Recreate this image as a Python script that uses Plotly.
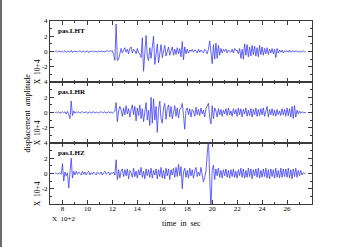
import numpy as np
import plotly.graph_objects as go
from plotly.subplots import make_subplots

# ---- data (amplitudes in units of 10^4, time in units of 10^2 s) ----
t_start = 7.4
dt = 0.1

lht = [
    0.0, 0.05, -0.05, 0.05, 0.0, -0.05,
    0.05, -0.05, 0.1, -0.1, 0.05, 0.0, -0.05, 0.15, -0.15, 0.05,
    0.0, 0.05, -0.05, 0.0, 0.1, -0.05, 0.0, 0.05, -0.1, 0.05,
    0.1, -0.15, 0.05, 0.0, 0.05, -0.05, 0.05, 0.0, -0.1, 0.1,
    -0.05, 0.05, 0.0, 0.05, -0.05, 0.05, 0.1, 0.0, 0.1, 0.05,
    0.1, -0.4, -1.15, 3.6, -1.2, -1.0, -0.3, 0.4, -0.2, 0.3,
    0.5, -0.1, 0.3, -0.3, 0.4, 0.6, -0.2, 0.3, 0.1, -0.3,
    0.4, -0.2, -0.3, -0.8, 1.8, -2.6, 0.2, 2.1, -0.6, -1.2,
    0.5, -0.9, 0.6, 2.0, -1.7, -0.2, 1.0, -1.5, -0.3, 0.9,
    -0.8, 0.1, 0.8, -0.6, 0.2, 0.6, -0.5, 0.1, 0.6, -0.5,
    0.3, -0.4, 0.5, -0.3, 0.4, -0.7, 1.3, -1.1, 0.6, -0.3,
    0.3, -0.2, 0.2, 0.0, 0.3, -0.1, 0.2, 0.1, -0.2, 0.3,
    -0.1, 0.2, 0.0, -0.2, 0.3, 0.1, -0.3, 0.3, 1.4, 0.2,
    -1.6, 0.9, -1.0, 1.1, -0.9, 0.8, -0.5, 0.4, -0.2, 0.3,
    0.0, 0.3, -0.2, 0.2, 0.1, -0.1, 0.3, -0.2, 0.4, 0.1,
    0.2, -0.3, 0.4, -0.9, 0.3, -1.0, 1.0, -0.5, 0.9, -0.7,
    0.6, -0.6, 0.8, -0.4, 0.7, -0.6, 0.5, -0.7, 0.8, -0.4,
    0.6, -0.5, 0.4, -0.3, 0.5, -0.4, 0.3, -0.2, 0.4, -0.3,
    0.3, -0.8, 0.4, -0.2, 0.2, -0.1, 0.2, -0.2, 0.1, 0.0,
    0.1, -0.1, 0.2, -0.1, 0.0, 0.1, -0.1, 0.1, 0.0, -0.1,
    0.1, -0.1, 0.0, 0.1, -0.05, 0.0,
]

lhr = [
    0.0, 0.05, -0.05, 0.1, -0.1, 0.05,
    0.1, -0.05, 0.1, -0.2, 0.15, -0.3, -0.8, 1.5, -0.4, 0.2,
    -0.1, 0.1, -0.05, 0.1, -0.1, 0.05, 0.1, -0.05, 0.0, 0.1,
    -0.1, 0.05, 0.1, -0.05, 0.0, 0.1, -0.1, 0.05, 0.0, -0.05,
    0.05, 0.1, -0.05, 0.0, 0.1, -0.1, 0.05, 0.1, -0.05, 0.1,
    -0.1, 0.1, 0.2, 1.3, -1.2, 0.2, 0.8, 0.3, -0.5, 0.6,
    -0.3, 0.9, -0.2, 0.5, -0.6, 0.4, 1.0, -0.3, 0.8, -1.1,
    0.6, -0.4, 1.0, -0.8, 0.5, -1.2, 0.4, 1.3, -1.0, 0.3,
    -1.7, 2.0, -1.4, 1.8, -1.0, 0.8, -2.6, 0.4, 1.5, -0.8,
    -1.4, 0.6, 1.2, -0.9, 0.5, 1.0, -0.6, 0.8, -0.8, 0.3,
    0.9, -0.5, 0.6, -0.7, 0.4, 0.6, 1.2, -0.4, -2.2, 0.3,
    0.6, -0.3, 0.5, -0.6, 0.4, 0.2, -0.5, 0.7, -0.3, 0.4,
    -0.4, 0.6, -0.2, 0.3, -0.6, 0.5, 0.8, 1.2, -0.6, -1.5,
    0.9, -0.8, 0.6, 0.2, -0.6, 0.5, -0.3, 0.4, -0.5, 0.3,
    -0.2, 0.5, -0.4, 0.6, -0.3, 0.2, -0.5, 0.5, -0.2, 0.4,
    -0.5, 0.6, -0.3, 0.5, -0.6, 0.4, -0.2, 0.6, -0.5, 0.3,
    -0.4, 0.5, -0.6, 0.4, -0.3, 0.6, -0.5, 0.4, -0.4, 0.5,
    -0.3, 0.6, -0.5, 0.3, 0.8, -0.6, 0.4, -0.3, 0.5, -0.4,
    0.3, -0.5, 0.4, -0.3, 0.2, -0.4, 0.5, -0.3, 0.4, -0.5,
    0.6, -0.4, 0.5, -0.6, 0.8, -0.8, 0.9, -0.6, 0.3, -0.2,
    0.2, -0.1, 0.1, 0.0, 0.05, 0.0,
]

lhz = [
    0.0, 0.1, -0.1, 0.05, 0.1, -0.1,
    1.3, -1.0, 0.2, -0.3, 0.1, -1.9, 0.3, 2.0, -0.6, 0.3,
    -0.2, 0.3, -0.1, 0.2, 0.0, -0.2, 0.3, -0.1, 0.2, -0.2,
    0.1, 0.3, -0.2, 0.1, -0.1, 0.2, 0.0, -0.2, 0.2, 0.1,
    -0.1, 0.2, -0.2, 0.1, 0.3, -0.1, 0.0, 0.2, -0.2, 0.1,
    0.0, 0.2, -0.2, 1.8, -0.8, 0.5, -0.6, 0.3, 0.6, -0.4,
    0.5, -0.3, 0.6, -0.7, 0.4, 0.1, -0.5, 0.7, -0.4, 0.3,
    -0.6, 0.5, -0.2, 0.8, -0.5, 0.3, -0.7, 0.6, -0.3, 0.5,
    -0.5, 0.7, -0.6, 0.4, -0.2, 0.6, -0.7, 0.5, -0.4, 0.8,
    -0.6, 0.4, -0.7, 0.7, -0.3, 0.6, -0.8, 0.5, -0.2, 0.7,
    -0.5, 0.8, -0.4, 1.2, -0.3, 0.9, -2.0, 0.2, 0.7, -0.5,
    0.4, -0.6, 0.7, -0.3, 0.5, -0.6, 0.3, 0.8, -0.4, 0.2,
    -0.3, 0.8, -0.2, -1.1, -0.5, 0.3, 2.5, 4.5, -0.5, -4.5,
    0.4, 1.1, -0.8, 0.6, -0.3, 0.7, -0.5, 0.4, -0.6, 0.5,
    -0.3, 0.6, -0.5, 0.4, -0.6, 0.5, -0.4, 0.6, -0.5, 0.3,
    -0.6, 0.5, -0.3, 0.7, -0.5, 0.6, -0.6, 0.4, -0.5, 0.7,
    -0.4, 0.6, -0.7, 0.5, -0.3, 0.6, -0.5, 0.7, -0.6, 0.4,
    -0.5, 0.6, -0.4, 0.7, -0.6, 0.5, -0.7, 0.6, -0.4, 0.5,
    -0.6, 0.7, -0.5, 0.4, -0.6, 0.7, -0.5, 0.6, -0.4, 0.6,
    -0.5, 0.7, -0.6, 0.5, -0.7, 0.6, -0.4, 0.7, -0.5, 0.4,
    -0.3, 0.4, -0.2, 0.1, 0.0, 0.05,
]

station_labels = ["pas.LHT", "pas.LHR", "pas.LHZ"]
x_tick_values = [8, 10, 12, 14, 16, 18, 20, 22, 24, 26]
y_tick_values = [-4, -2, 0, 2, 4]
y_tick_text = ["", "-2", "0", "2", "4"]
x_range = [7, 28]
y_range = [-4, 4]

# ---- figure ----
SERIF = "Liberation Serif"
LINE_COL = "#3d3dff"
AXIS_COL = "#3a3a3a"

fig = make_subplots(rows=3, cols=1, shared_xaxes=True, vertical_spacing=0)

for i, ys in enumerate([lht, lhr, lhz]):
    t = t_start + dt * np.arange(len(ys))
    fig.add_trace(
        go.Scatter(x=t, y=ys, mode="lines",
                   line=dict(color=LINE_COL, width=0.8), showlegend=False,
                   hoverinfo="skip"),
        row=i + 1, col=1,
    )

for i in range(3):
    fig.update_xaxes(
        range=x_range, tickvals=x_tick_values, ticks="inside", ticklen=4,
        tickwidth=1, tickcolor=AXIS_COL,
        minor=dict(dtick=1, tick0=7, ticks="inside", ticklen=2, tickcolor=AXIS_COL),
        showline=True, linecolor=AXIS_COL, linewidth=1, mirror="allticks",
        showgrid=False, zeroline=False, ticklabelstandoff=-2,
        tickfont=dict(family=SERIF, size=7, color="black"),
        row=i + 1, col=1,
    )
    fig.update_yaxes(
        range=y_range, tickvals=y_tick_values, ticktext=y_tick_text,
        ticks="inside", ticklen=4, tickwidth=1, tickcolor=AXIS_COL,
        minor=dict(dtick=1, tick0=0, ticks="inside", ticklen=2, tickcolor=AXIS_COL),
        showline=True, linecolor=AXIS_COL, linewidth=1, mirror="allticks",
        showgrid=False, zeroline=False,
        tickfont=dict(family=SERIF, size=7, color="black"),
        row=i + 1, col=1,
    )

annotations = []
yrefs = ["y", "y2", "y3"]
for i, name in enumerate(station_labels):
    annotations.append(dict(
        text="<b>" + name + "</b>", x=7.5, y=2.75, xref="x", yref=yrefs[i],
        xanchor="left", yanchor="middle", showarrow=False,
        font=dict(family=SERIF, size=7, color="black"),
    ))
    annotations.append(dict(
        text="X  10+4", x=-0.05, y=-2.6, xref="paper", yref=yrefs[i],
        xanchor="center", yanchor="middle", showarrow=False, textangle=-90,
        font=dict(family=SERIF, size=7.5, color="black"),
    ))

annotations.append(dict(
    text="displacement  amplitude", x=-0.084, y=0, xref="paper", yref="y2",
    xanchor="center", yanchor="middle", showarrow=False, textangle=-90,
    font=dict(family=SERIF, size=8, color="black"),
))
annotations.append(dict(
    text="X  10+2", x=0.0, y=-0.08, xref="paper", yref="paper",
    xanchor="left", yanchor="middle", showarrow=False,
    font=dict(family=SERIF, size=7, color="black"),
))
annotations.append(dict(
    text="time  in  sec", x=0.5, y=-0.105, xref="paper", yref="paper",
    xanchor="center", yanchor="middle", showarrow=False,
    font=dict(family=SERIF, size=8, color="black"),
))

fig.update_layout(
    width=361, height=247,
    margin=dict(l=50, r=49, t=21, b=43),
    paper_bgcolor="white", plot_bgcolor="white",
    annotations=annotations,
    shapes=[dict(type="line", xref="paper", yref="paper",
                 x0=-49.0 / 262, x1=-49.0 / 262, y0=-0.3, y1=1.2,
                 line=dict(color="#6a6a6a", width=2))],
)

fig.write_html("out.html")
